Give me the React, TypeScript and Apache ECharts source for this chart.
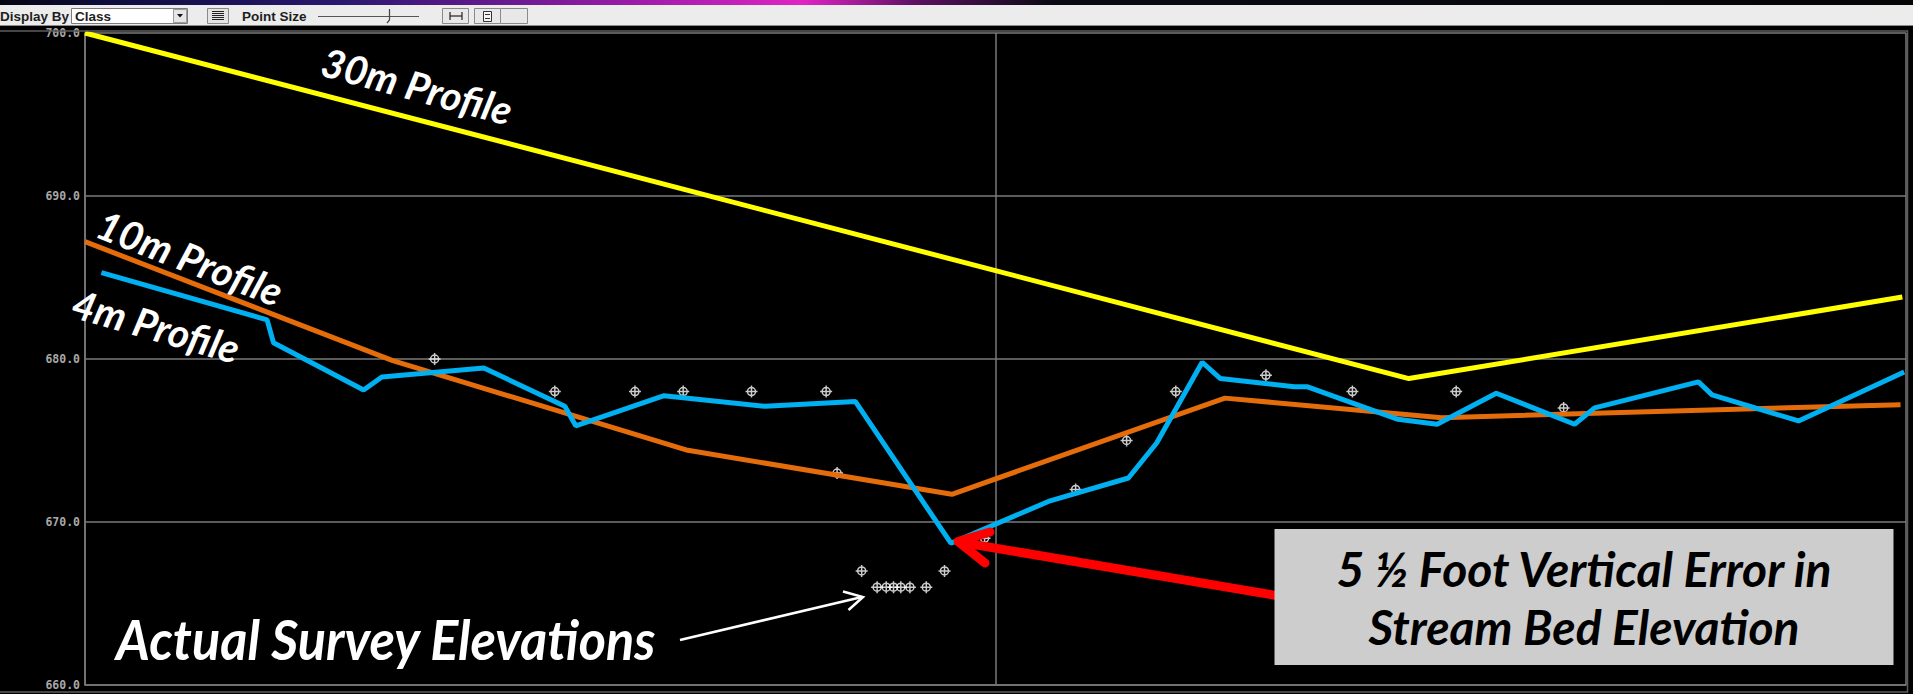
import React, { useEffect, useRef } from "react";
import * as echarts from "echarts";

// Profile lines (x: relative distance along the stream 0..100, y: elevation)
const profile30mX = [0, 72.7, 99.8];
const profile30mY = [700, 678.8, 683.8];

const profile10mX = [0, 16.9, 33.1, 47.6, 62.6, 74.5, 99.7];
const profile10mY = [687.2, 679.9, 674.4, 671.7, 677.6, 676.4, 677.2];

const profile4mX = [0.9, 10.0, 10.35, 15.3, 16.3, 21.9, 26.35, 26.95, 31.8, 37.35, 42.3, 47.55, 53.0, 57.3, 58.85, 61.35, 62.35, 66.4, 67.1, 72.1, 74.25, 77.5, 81.8, 82.9, 88.6, 89.35, 94.1, 99.9];
const profile4mY = [685.3, 682.4, 681.0, 678.1, 678.9, 679.45, 677.1, 675.9, 677.75, 677.1, 677.4, 668.7, 671.3, 672.7, 674.85, 679.8, 678.8, 678.3, 678.3, 676.3, 676.0, 677.9, 676.0, 677.0, 678.6, 677.8, 676.2, 679.2];

// Actual survey elevations
const surveyX = [19.2, 25.8, 30.2, 32.85, 36.6, 40.7, 41.3, 42.65, 43.5, 44.0, 44.4, 44.8, 45.3, 46.2, 47.2, 49.4, 54.4, 57.2, 59.9, 64.85, 69.6, 75.3, 81.2];
const surveyY = [680, 678, 678, 678, 678, 678, 673, 667, 666, 666, 666, 666, 666, 666, 667, 669, 672, 675, 678, 679, 678, 678, 677];

const yTicks = [660, 670, 680, 690, 700];

const zip = (xs: number[], ys: number[]) => xs.map((x, i) => [x, ys[i]]);

const CROSSHAIR = "path://M6,0 L6,12 M0,6 L12,6 M10,6 A4,4 0 1 1 2,6 A4,4 0 1 1 10,6 Z";

export default function App() {
  const ref = useRef<HTMLDivElement>(null);

  useEffect(() => {
    if (!ref.current) return;
    const chart = echarts.init(ref.current, undefined, { renderer: "svg" });
    const grey = "#7a7a7a";
    const tbText = { fontFamily: "Liberation Sans", fontWeight: "bold", fontSize: 13.5, fill: "#1e1e1e", verticalAlign: "middle" };
    const anno = { fontFamily: "Lato", fontStyle: "italic", fontWeight: "bold" };

    const option: any = {
      animation: false,
      backgroundColor: "#000000",
      grid: { left: 85, right: 7, top: 33, bottom: 9 },
      xAxis: {
        type: "value",
        min: 0,
        max: 100,
        interval: 50,
        axisLabel: { show: false },
        axisTick: { show: false },
        axisLine: { show: true, lineStyle: { color: grey, width: 1.5 } },
        splitLine: { show: true, lineStyle: { color: grey, width: 1.5 } },
      },
      yAxis: {
        type: "value",
        min: yTicks[0],
        max: yTicks[yTicks.length - 1],
        interval: 10,
        axisTick: { show: false },
        axisLine: { show: true, lineStyle: { color: grey, width: 1.5 } },
        splitLine: { show: true, lineStyle: { color: grey, width: 1.5 } },
        axisLabel: {
          margin: 5,
          color: "#a8a8a8",
          fontFamily: "DejaVu Sans Mono",
          fontWeight: "bold",
          fontSize: 11.5,
          formatter: (v: number) => v.toFixed(1),
        },
      },
      series: [
        {
          name: "Survey",
          type: "scatter",
          z: 1,
          symbol: CROSSHAIR,
          symbolSize: 12,
          itemStyle: { color: "rgba(0,0,0,0)", borderColor: "#ffffff", borderWidth: 1.5 },
          data: zip(surveyX, surveyY),
        },
        {
          name: "30m Profile",
          type: "line",
          z: 3,
          showSymbol: false,
          symbol: "none",
          lineStyle: { color: "#FFFF00", width: 5 },
          data: zip(profile30mX, profile30mY),
        },
        {
          name: "10m Profile",
          type: "line",
          z: 3,
          showSymbol: false,
          symbol: "none",
          lineStyle: { color: "#E46C0A", width: 5 },
          data: zip(profile10mX, profile10mY),
        },
        {
          name: "4m Profile",
          type: "line",
          z: 4,
          showSymbol: false,
          symbol: "none",
          lineStyle: { color: "#00B0F0", width: 5 },
          data: zip(profile4mX, profile4mY),
        },
      ],
      graphic: [
        // window strip
        {
          type: "rect", z: 50, shape: { x: 0, y: 0, width: 1913, height: 5 },
          style: {
            fill: new echarts.graphic.LinearGradient(0, 0, 1, 0, [
              { offset: 0, color: "#050510" },
              { offset: 0.05, color: "#0c0c3a" },
              { offset: 0.18, color: "#2a1870" },
              { offset: 0.33, color: "#9a1ca8" },
              { offset: 0.42, color: "#e024c4" },
              { offset: 0.48, color: "#5a1060" },
              { offset: 0.55, color: "#0a0a14" },
              { offset: 1, color: "#050508" },
            ]),
          },
        },
        // toolbar
        { type: "rect", z: 50, shape: { x: 0, y: 5, width: 1913, height: 20 }, style: { fill: "#ececec" } },
        { type: "line", z: 50, shape: { x1: 0, y1: 25.5, x2: 1913, y2: 25.5 }, style: { stroke: "#8a8a8a", lineWidth: 1 } },
        { type: "text", z: 51, x: 0, y: 16, style: { ...tbText, text: "Display By" } },
        { type: "rect", z: 51, shape: { x: 71.5, y: 8.5, width: 116, height: 15 }, style: { fill: "#ffffff", stroke: "#7c7c7c", lineWidth: 1 } },
        { type: "text", z: 52, x: 75, y: 16, style: { ...tbText, text: "Class" } },
        { type: "rect", z: 52, shape: { x: 173.5, y: 9.5, width: 13, height: 13 }, style: { fill: "#e6e6e6", stroke: "#9a9a9a", lineWidth: 1 } },
        { type: "polygon", z: 53, shape: { points: [[177, 14], [183, 14], [180, 17.5]] }, style: { fill: "#111" } },
        { type: "rect", z: 51, shape: { x: 207.5, y: 8.5, width: 21, height: 15 }, style: { fill: "#e4e4e4", stroke: "#8a8a8a", lineWidth: 1 } },
        ...[11.5, 13.5, 15.5, 17.5, 19.5].map((yy) => ({
          type: "line", z: 52, shape: { x1: 212, y1: yy, x2: 224, y2: yy }, style: { stroke: "#222", lineWidth: 1 },
        })),
        { type: "text", z: 51, x: 242, y: 16, style: { ...tbText, text: "Point Size" } },
        { type: "line", z: 51, shape: { x1: 318, y1: 16.5, x2: 419, y2: 16.5 }, style: { stroke: "#555", lineWidth: 1 } },
        { type: "polyline", z: 52, shape: { points: [[389.5, 9], [389.5, 20], [387, 23]] }, style: { stroke: "#444", lineWidth: 1.2, fill: "none" } },
        { type: "rect", z: 51, shape: { x: 442.5, y: 8.5, width: 26, height: 15 }, style: { fill: "#e8e8e8", stroke: "#8a8a8a", lineWidth: 1 } },
        { type: "line", z: 52, shape: { x1: 450, y1: 16, x2: 462, y2: 16 }, style: { stroke: "#222", lineWidth: 1.2 } },
        { type: "line", z: 52, shape: { x1: 450, y1: 12, x2: 450, y2: 20 }, style: { stroke: "#222", lineWidth: 1.2 } },
        { type: "line", z: 52, shape: { x1: 462, y1: 12, x2: 462, y2: 20 }, style: { stroke: "#222", lineWidth: 1.2 } },
        { type: "rect", z: 51, shape: { x: 474.5, y: 8.5, width: 26, height: 15 }, style: { fill: "#e8e8e8", stroke: "#8a8a8a", lineWidth: 1 } },
        { type: "rect", z: 52, shape: { x: 483.5, y: 11.5, width: 8, height: 10 }, style: { fill: "#f4f4f4", stroke: "#333", lineWidth: 1 } },
        { type: "line", z: 52, shape: { x1: 485, y1: 14.5, x2: 490, y2: 14.5 }, style: { stroke: "#333", lineWidth: 1 } },
        { type: "line", z: 52, shape: { x1: 485, y1: 18.5, x2: 490, y2: 18.5 }, style: { stroke: "#333", lineWidth: 1 } },
        { type: "rect", z: 51, shape: { x: 500.5, y: 8.5, width: 27, height: 15 }, style: { fill: "#e8e8e8", stroke: "#8a8a8a", lineWidth: 1 } },
        // outer frame
        { type: "rect", z: 40, shape: { x: -2, y: 31, width: 1909.5, height: 661 }, style: { fill: "none", stroke: "#5c5c5c", lineWidth: 1.5 } },
        // profile labels
        { type: "text", z: 100, x: 417, y: 86, rotation: -0.262, style: { ...anno, fontSize: 40, fill: "#ffffff", text: "30m Profile", align: "center", verticalAlign: "middle" } },
        { type: "text", z: 100, x: 190, y: 258, rotation: -0.37, style: { ...anno, fontSize: 40, fill: "#ffffff", text: "10m Profile", align: "center", verticalAlign: "middle" } },
        { type: "text", z: 100, x: 156, y: 326, rotation: -0.28, style: { ...anno, fontSize: 40, fill: "#ffffff", text: "4m Profile", align: "center", verticalAlign: "middle" } },
        // survey annotation
        { type: "text", z: 100, x: 116, y: 638, scaleX: 0.95, style: { ...anno, fontSize: 55, fill: "#ffffff", text: "Actual Survey Elevations", align: "left", verticalAlign: "middle" } },
        { type: "line", z: 100, shape: { x1: 680, y1: 640, x2: 862, y2: 597 }, style: { stroke: "#ffffff", lineWidth: 2.5 } },
        { type: "polyline", z: 100, shape: { points: [[843, 591.5], [863, 597], [848.5, 610]] }, style: { stroke: "#ffffff", lineWidth: 2.5, fill: "none" } },
        // red error arrow
        { type: "line", z: 100, shape: { x1: 1285, y1: 597, x2: 962, y2: 542.5 }, style: { stroke: "#ff0000", lineWidth: 9, lineCap: "round" } },
        { type: "polyline", z: 100, shape: { points: [[990, 532], [958, 541.5], [985, 563]] }, style: { stroke: "#ff0000", lineWidth: 9, lineCap: "round", lineJoin: "round", fill: "none" } },
        // callout box
        { type: "rect", z: 101, shape: { x: 1274.5, y: 529, width: 619, height: 136 }, style: { fill: "#cdcdcd" } },
        { type: "text", z: 102, x: 1584, y: 568, style: { ...anno, fontSize: 48, fill: "#000000", text: "5 ½ Foot Vertical Error in", align: "center", verticalAlign: "middle" } },
        { type: "text", z: 102, x: 1584, y: 626, style: { ...anno, fontSize: 48, fill: "#000000", text: "Stream Bed Elevation", align: "center", verticalAlign: "middle" } },
      ],
    };

    chart.setOption(option);
    return () => chart.dispose();
  }, []);

  return (
    <div
      ref={ref}
      style={{ position: "absolute", left: 0, top: 0, width: 1913, height: 694 }}
    />
  );
}
